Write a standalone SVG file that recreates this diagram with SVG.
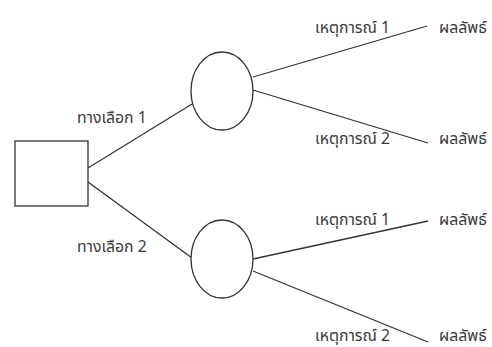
<svg xmlns="http://www.w3.org/2000/svg" width="492" height="347" viewBox="0 0 492 347">
<style>
.shape{fill:#fff;stroke:#333;stroke-width:1.3}
.edge{stroke:#333;stroke-width:1.3;fill:none}
.t{font-family:"Noto Sans Thai","Tahoma","Liberation Sans","DejaVu Sans",sans-serif;font-size:15.8px;fill:#3a3a3a}
</style>
<rect width="492" height="347" fill="#fff"/>
<g id="connectors">
<line class="edge" x1="88" y1="168" x2="192" y2="104"/>
<line class="edge" x1="88" y1="182" x2="192" y2="258"/>
<line class="edge" x1="253" y1="77" x2="427" y2="26"/>
<line class="edge" x1="253" y1="90" x2="428" y2="143"/>
<line class="edge" x1="253" y1="259" x2="428" y2="221"/>
<line class="edge" x1="253" y1="271" x2="428" y2="342"/>
</g>
<g id="decision"><rect class="shape" x="15" y="141" width="73" height="65"/></g>
<g id="chance1"><ellipse class="shape" cx="222" cy="91" rx="31" ry="39"/></g>
<g id="chance2"><ellipse class="shape" cx="222" cy="259" rx="31" ry="39"/></g>
<g id="labels">
<text class="t" x="77" y="123">ทางเลือก 1</text>
<text class="t" x="77" y="252">ทางเลือก 2</text>
<text class="t" x="315" y="33">เหตุการณ์ 1</text>
<text class="t" x="315" y="144">เหตุการณ์ 2</text>
<text class="t" x="315" y="225">เหตุการณ์ 1</text>
<text class="t" x="315" y="341">เหตุการณ์ 2</text>
<text class="t" x="439" y="33">ผลลัพธ์</text>
<text class="t" x="439" y="144">ผลลัพธ์</text>
<text class="t" x="439" y="225">ผลลัพธ์</text>
<text class="t" x="439" y="341">ผลลัพธ์</text>
</g>
</svg>
